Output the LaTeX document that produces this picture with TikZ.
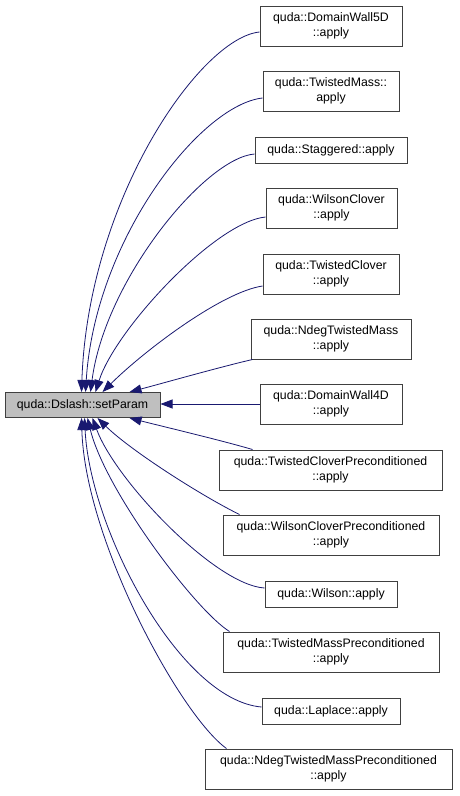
\documentclass[tikz,border=0pt]{standalone}
\usepackage{fontspec}
\setmainfont{Liberation Sans}
\usetikzlibrary{arrows.meta}
\definecolor{edgec}{HTML}{191970}
\definecolor{boxline}{HTML}{404040}
\definecolor{mainfill}{HTML}{BFBFBF}
\tikzset{
  box/.style={draw=boxline, line width=1pt, fill=white, align=center, inner sep=0pt,
    font=\fontsize{12.3}{15}\selectfont},
  mainbox/.style={box, fill=mainfill},
  edge/.style={draw=edgec, line width=0.8pt, -{Triangle[length=12pt,width=9pt]}},
}
\begin{document}
\begin{tikzpicture}[x=1pt,y=-1pt]
\useasboundingbox (0,0) rectangle (460,796);
\fill[white] (0,0) rectangle (460,796);
\node[mainbox, minimum width=155pt, minimum height=25pt] (sp) at (82.5,405) {quda::Dslash::setParam};
\node[box, minimum width=142pt, minimum height=40pt] (n1) at (331,26) {quda::DomainWall5D\\::apply};
\node[box, minimum width=136pt, minimum height=40pt] (n2) at (331,91) {quda::TwistedMass::\\apply};
\node[box, minimum width=152pt, minimum height=26pt] (n3) at (331,150) {quda::Staggered::apply};
\node[box, minimum width=131pt, minimum height=40pt] (n4) at (331.5,208) {quda::WilsonClover\\::apply};
\node[box, minimum width=136pt, minimum height=40pt] (n5) at (331,274) {quda::TwistedClover\\::apply};
\node[box, minimum width=160pt, minimum height=40pt] (n6) at (331,339) {quda::NdegTwistedMass\\::apply};
\node[box, minimum width=142pt, minimum height=40pt] (n7) at (331,404) {quda::DomainWall4D\\::apply};
\node[box, minimum width=223pt, minimum height=40pt] (n8) at (330.5,470) {quda::TwistedCloverPreconditioned\\::apply};
\node[box, minimum width=216pt, minimum height=40pt] (n9) at (331,535) {quda::WilsonCloverPreconditioned\\::apply};
\node[box, minimum width=132pt, minimum height=26pt] (n10) at (331,594) {quda::Wilson::apply};
\node[box, minimum width=216pt, minimum height=40pt] (n11) at (331,652) {quda::TwistedMassPreconditioned\\::apply};
\node[box, minimum width=138pt, minimum height=26pt] (n12) at (331,711) {quda::Laplace::apply};
\node[box, minimum width=247pt, minimum height=40pt] (n13) at (328.5,769) {quda::NdegTwistedMassPreconditioned\\::apply};

\draw[edge] ([yshift=-6pt]n1.west) .. controls (200,38) and (88,200) .. ([xshift=77pt]sp.north west);
\draw[edge] ([yshift=-7pt]n2.west) .. controls (200,105) and (95,240) .. ([xshift=81pt]sp.north west);
\draw[edge] ([yshift=-4pt]n3.west) .. controls (205,158) and (105,280) .. ([xshift=86pt]sp.north west);
\draw[edge] ([yshift=-9pt]n4.west) .. controls (215,222) and (115,330) .. ([xshift=91pt]sp.north west);
\draw[edge] ([yshift=-12pt]n5.west) .. controls (222,292) and (145,350) .. ([xshift=98pt]sp.north west);
\draw[edge] ([xshift=2pt]n6.south west) .. controls (220,367) and (160,384) .. ([xshift=125pt]sp.north west);
\draw[edge] (n7.west) -- (n7.west -| sp.east);
\draw[edge] ([xshift=34pt]n8.north west) .. controls (220,440) and (165,427) .. ([xshift=125pt]sp.south west);
\draw[edge] ([xshift=17pt]n9.north west) .. controls (200,495) and (130,450) .. ([xshift=93pt]sp.south west);
\draw[edge] ([yshift=6pt]n10.west) .. controls (215,585) and (115,480) .. ([xshift=88pt]sp.south west);
\draw[edge] ([xshift=7pt]n11.north west) .. controls (195,610) and (105,490) .. ([xshift=83pt]sp.south west);
\draw[edge] ([yshift=4pt]n12.west) .. controls (180,700) and (90,530) .. ([xshift=80pt]sp.south west);
\draw[edge] ([xshift=22pt]n13.north west) .. controls (180,715) and (85,540) .. ([xshift=77pt]sp.south west);
\end{tikzpicture}
\end{document}
